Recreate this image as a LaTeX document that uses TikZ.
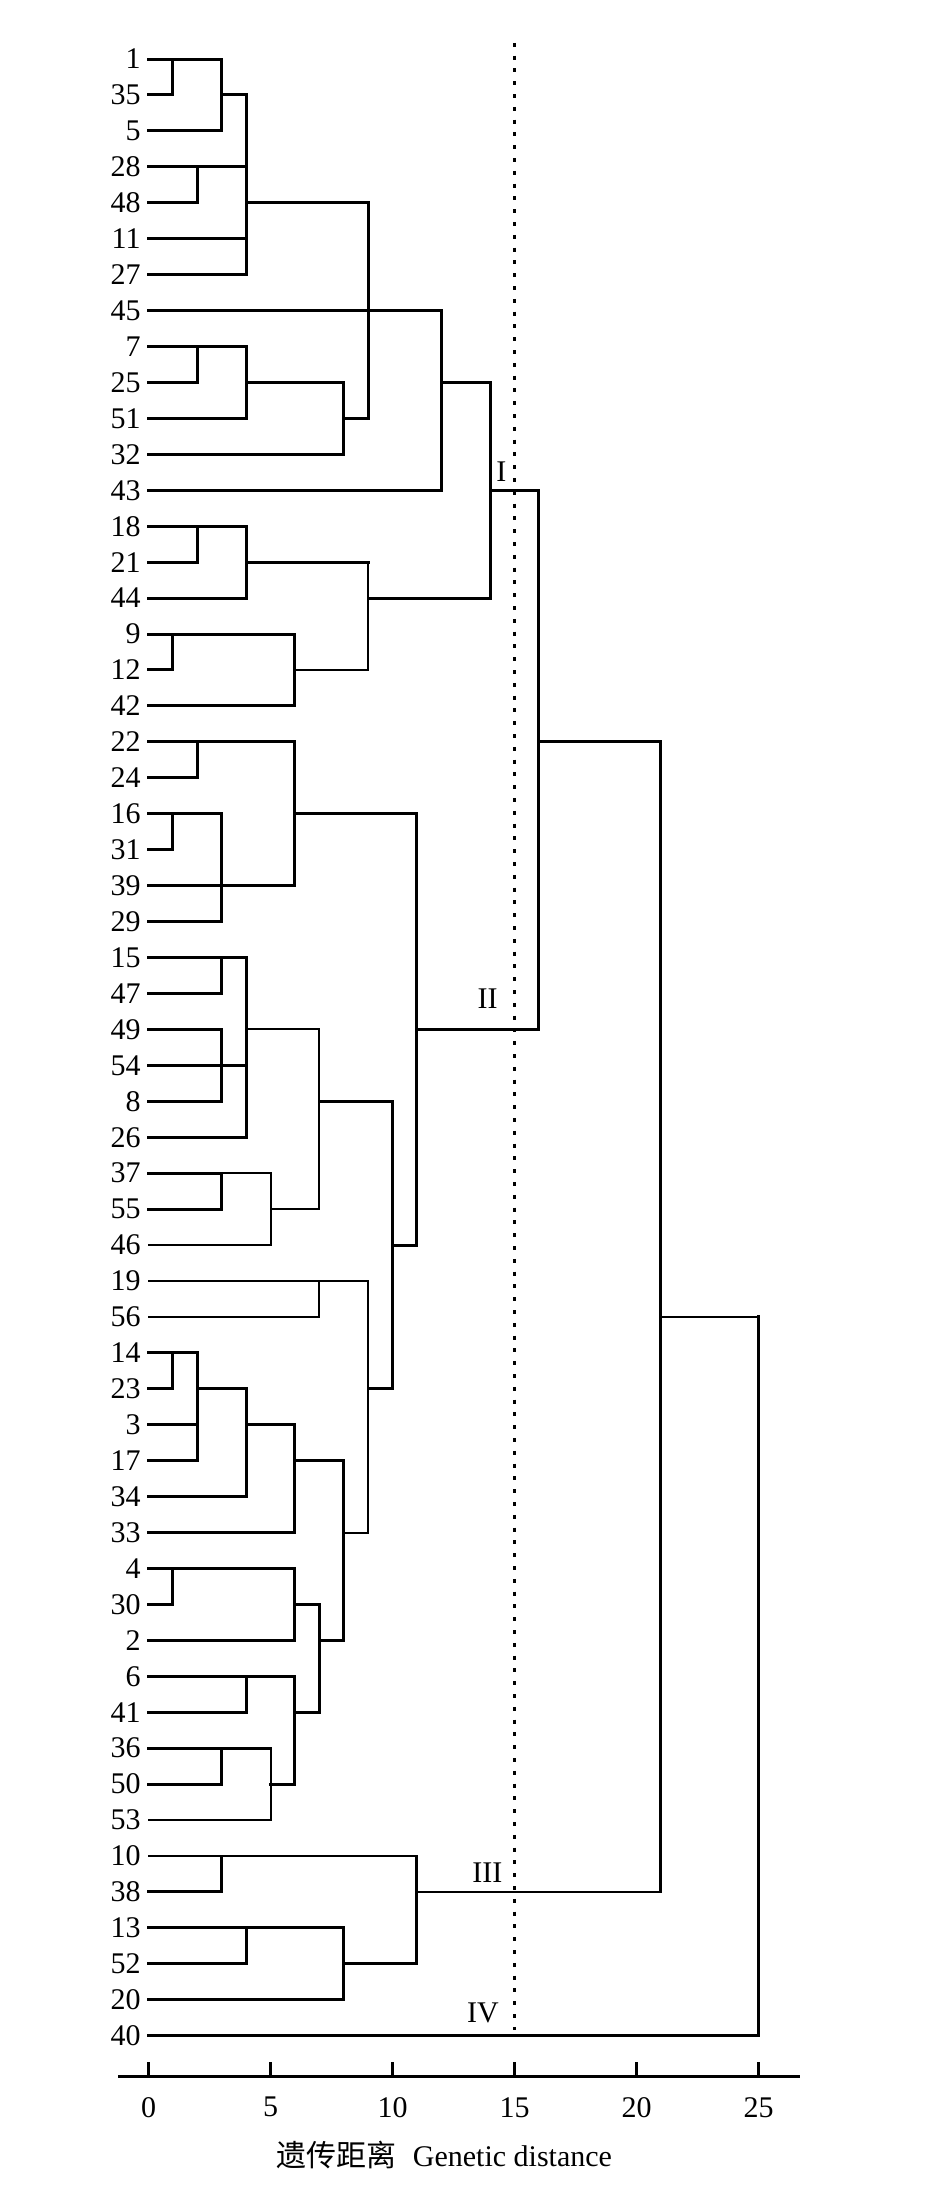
\documentclass[tikz,border=0pt]{standalone}
\usepackage{fontspec}
\setmainfont{Liberation Serif}
\newfontfamily\cjk{Noto Sans CJK SC}
\usepackage{tikz}
\usetikzlibrary{positioning}

\begin{document}
\begin{tikzpicture}[x=12.2pt,y=-17.97pt,
        line cap=rect,
        branch/.style={line width=1.5pt},
        thin branch/.style={line width=1pt},
        leaf/.style={anchor=east,inner xsep=3.8pt,inner ysep=0pt,font=\fontsize{15}{18}\selectfont},
        group label/.style={anchor=base east,inner sep=0pt,font=\fontsize{15}{18}\selectfont},
        tick label/.style={inner sep=0pt,font=\fontsize{15}{18}\selectfont},
        cut/.style={line width=1.1pt,line cap=butt,dash pattern=on 2pt off 4.4pt}]
      \useasboundingbox (-74.25pt,29.5pt) rectangle (398.25pt,-1069pt);

      \node[leaf] (1) at (0,0) {1};
      \node[leaf] (35) at (0,1) {35};
      \node[leaf] (5) at (0,2) {5};
      \node[leaf] (28) at (0,3) {28};
      \node[leaf] (48) at (0,4) {48};
      \node[leaf] (11) at (0,5) {11};
      \node[leaf] (27) at (0,6) {27};
      \node[leaf] (45) at (0,7) {45};
      \node[leaf] (7) at (0,8) {7};
      \node[leaf] (25) at (0,9) {25};
      \node[leaf] (51) at (0,10) {51};
      \node[leaf] (32) at (0,11) {32};
      \node[leaf] (43) at (0,12) {43};
      \node[leaf] (18) at (0,13) {18};
      \node[leaf] (21) at (0,14) {21};
      \node[leaf] (44) at (0,15) {44};
      \node[leaf] (9) at (0,16) {9};
      \node[leaf] (12) at (0,17) {12};
      \node[leaf] (42) at (0,18) {42};
      \node[leaf] (22) at (0,19) {22};
      \node[leaf] (24) at (0,20) {24};
      \node[leaf] (16) at (0,21) {16};
      \node[leaf] (31) at (0,22) {31};
      \node[leaf] (39) at (0,23) {39};
      \node[leaf] (29) at (0,24) {29};
      \node[leaf] (15) at (0,25) {15};
      \node[leaf] (47) at (0,26) {47};
      \node[leaf] (49) at (0,27) {49};
      \node[leaf] (54) at (0,28) {54};
      \node[leaf] (8) at (0,29) {8};
      \node[leaf] (26) at (0,30) {26};
      \node[leaf] (37) at (0,31) {37};
      \node[leaf] (55) at (0,32) {55};
      \node[leaf] (46) at (0,33) {46};
      \node[leaf] (19) at (0,34) {19};
      \node[leaf] (56) at (0,35) {56};
      \node[leaf] (14) at (0,36) {14};
      \node[leaf] (23) at (0,37) {23};
      \node[leaf] (3) at (0,38) {3};
      \node[leaf] (17) at (0,39) {17};
      \node[leaf] (34) at (0,40) {34};
      \node[leaf] (33) at (0,41) {33};
      \node[leaf] (4) at (0,42) {4};
      \node[leaf] (30) at (0,43) {30};
      \node[leaf] (2) at (0,44) {2};
      \node[leaf] (6) at (0,45) {6};
      \node[leaf] (41) at (0,46) {41};
      \node[leaf] (36) at (0,47) {36};
      \node[leaf] (50) at (0,48) {50};
      \node[leaf] (53) at (0,49) {53};
      \node[leaf] (10) at (0,50) {10};
      \node[leaf] (38) at (0,51) {38};
      \node[leaf] (13) at (0,52) {13};
      \node[leaf] (52) at (0,53) {52};
      \node[leaf] (20) at (0,54) {20};
      \node[leaf] (40) at (0,55) {40};

      \draw[branch] (1.east) -- (3,0) |- (5.east);
      \draw[branch] (35.east) -| (1,0);
      \draw[branch] (28.east) -- (4,3);
      \draw[branch] (48.east) -| (2,3);
      \draw[branch] (3,1) -- (4,1) |- (27.east);
      \draw[branch] (11.east) -- (4,5);
      \draw[branch] (4,4) -- (9,4) |- (8,10);
      \draw[branch] (7.east) -- (4,8) |- (51.east);
      \draw[branch] (25.east) -| (2,8);
      \draw[branch] (4,9) -- (8,9) |- (32.east);
      \draw[branch] (45.east) -- (12,7) |- (43.east);
      \draw[branch] (12,9) -- (14,9) |- (9,15);
      \draw[branch] (14,12) -- (16,12) |- (11,27);
      \draw[branch] (18.east) -- (4,13) |- (44.east);
      \draw[branch] (21.east) -| (2,13);
      \draw[branch] (4,14) -- (9,14);
      \draw[thin branch] (9,14) |- (6,17);
      \draw[branch] (9.east) -- (6,16) |- (42.east);
      \draw[branch] (12.east) -| (1,16);

      \draw[branch] (22.east) -- (6,19) |- (39.east);
      \draw[branch] (24.east) -| (2,19);
      \draw[branch] (16.east) -- (3,21) |- (29.east);
      \draw[branch] (31.east) -| (1,21);
      \draw[branch] (6,21) -- (11,21) |- (10,33);
      \draw[branch] (15.east) -- (4,25) |- (26.east);
      \draw[branch] (47.east) -| (3,25);
      \draw[branch] (49.east) -- (3,27) |- (8.east);
      \draw[branch] (54.east) -- (4,28);
      \draw[thin branch] (4,27) -- (7,27) |- (5,32);
      \draw[branch] (37.east) -- (3,31);
      \draw[thin branch] (3,31) -- (5,31) |- (46.east);
      \draw[branch] (55.east) -| (3,31);
      \draw[branch] (7,29) -- (10,29) |- (9,37);
      \draw[thin branch] (19.east) -- (9,34) |- (8,41);
      \draw[thin branch] (56.east) -| (7,34);
      \draw[branch] (14.east) -- (2,36) |- (17.east);
      \draw[branch] (23.east) -| (1,36);
      \draw[branch] (3.east) -- (2,38);
      \draw[branch] (2,37) -- (4,37) |- (34.east);
      \draw[branch] (4,38) -- (6,38) |- (33.east);
      \draw[branch] (6,39) -- (8,39) |- (7,44);
      \draw[branch] (4.east) -- (6,42) |- (2.east);
      \draw[branch] (30.east) -| (1,42);
      \draw[branch] (6,43) -- (7,43) |- (6,46);
      \draw[branch] (6.east) -- (6,45) |- (5,48);
      \draw[branch] (41.east) -| (4,45);
      \draw[branch] (36.east) -- (5,47);
      \draw[thin branch] (5,47) |- (53.east);
      \draw[branch] (50.east) -| (3,47);

      \draw[thin branch] (10.east) -- (11,50);
      \draw[branch] (11,50) |- (8,53);
      \draw[branch] (38.east) -| (3,50);
      \draw[branch] (13.east) -- (8,52) |- (20.east);
      \draw[branch] (52.east) -| (4,52);

      \draw[branch] (16,19) -- (21,19) -- (21,51);
      \draw[thin branch] (11,51) -- (21,51);
      \draw[thin branch] (21,35) -- (25,35);
      \draw[branch] (25,35) |- (40.east);

      \draw[cut] (15,-0.45) -- (15,54.84);

      \node[group label] (I) at (14.68,11.76) {I};
      \node[group label] (II) at (14.32,26.43) {II};
      \node[group label] (III) at (14.52,50.74) {III};
      \node[group label] (IV) at (14.37,54.64) {IV};

      \draw[branch] (-1.19,56.14) -- (26.62,56.14);
      \draw[branch] (0,56.14) -- (0,55.78) (5,56.14) -- (5,55.78)
        (10,56.14) -- (10,55.78) (15,56.14) -- (15,55.78)
        (20,56.14) -- (20,55.78) (25,56.14) -- (25,55.78);
      \node[tick label] (x0) at (0,56.99) {0};
      \node[tick label] (x5) at (5,56.99) {5};
      \node[tick label] (x10) at (10,56.99) {10};
      \node[tick label] (x15) at (15,56.99) {15};
      \node[tick label] (x20) at (20,56.99) {20};
      \node[tick label] (x25) at (25,56.99) {25};
      \node[anchor=base,inner sep=0pt,font=\fontsize{15}{18}\selectfont] (title) at (12.12,58.65)
        {{\cjk 遗传距离}\hspace{0.55em}Genetic distance};
    \end{tikzpicture}
\end{document}
